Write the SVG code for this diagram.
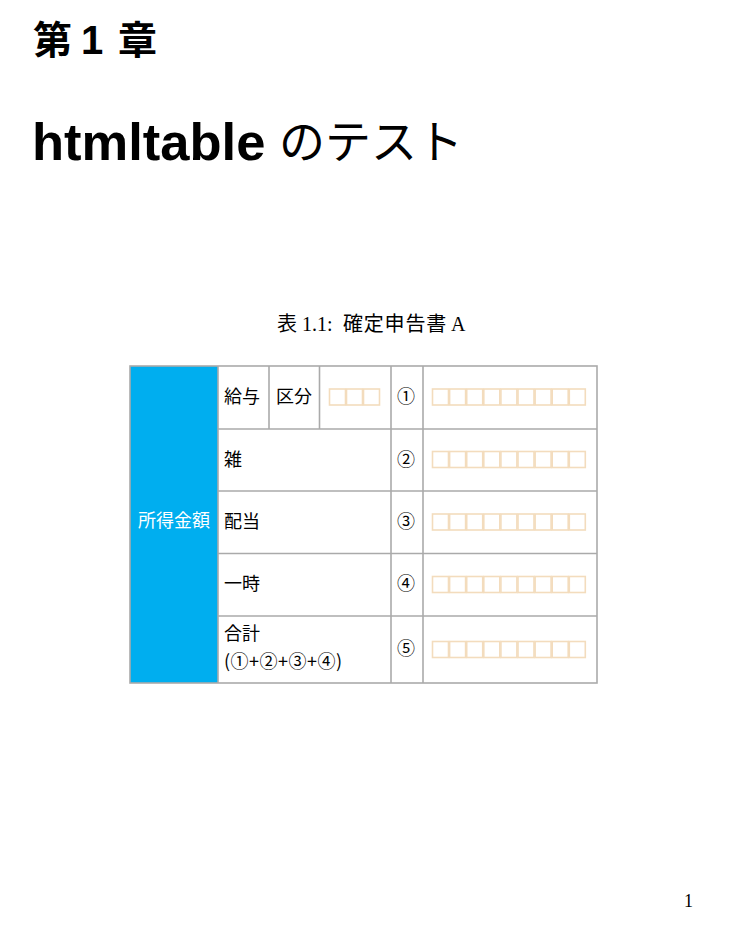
<svg xmlns="http://www.w3.org/2000/svg" width="733" height="927" viewBox="0 0 733 927">
<style>
.h{font-family:"Liberation Sans","Noto Sans CJK JP",sans-serif;font-weight:bold;fill:#000}
.hj{font-family:"Noto Sans CJK JP",sans-serif;font-weight:bold;fill:#000}
.cap{font-family:"Liberation Serif","Noto Sans CJK JP",serif;font-size:20px;fill:#000}
.capj{font-family:"Noto Sans CJK JP",serif;font-size:20px;fill:#000}
.t{font-family:"Noto Sans CJK JP",sans-serif;font-size:18px;fill:#000}
.w{font-family:"Noto Sans CJK JP",sans-serif;font-size:18px;fill:#fff}
.g{stroke:#aaaaaa;stroke-width:1.6;fill:none}
.b{fill:#fff;stroke:#f3dcbd;stroke-width:1.6}
</style>
<rect width="733" height="927" fill="#fff"/>
<g id="headings">
<text class="hj" x="33" y="54" font-size="39">第</text>
<text class="h" x="81" y="54" font-size="40">1</text>
<text class="hj" x="118" y="54" font-size="39">章</text>
<text class="h" x="32" y="159.5" font-size="52.5">htmltable</text>
<text x="279" y="158" font-size="46" style="font-family:'Noto Sans CJK JP',sans-serif;fill:#000">のテスト</text>
</g>
<g id="caption">
<text class="capj" x="277" y="331">表</text>
<text class="cap" x="302" y="331">1.1:</text>
<text class="capj" x="343" y="331" letter-spacing="0.8">確定申告書</text>
<text class="cap" x="451" y="331">A</text>
</g>
<g id="table">
<rect x="130" y="366" width="88" height="317" fill="#00aeef"/>
<text class="w" x="174" y="527" text-anchor="middle">所得金額</text>
<g id="row1">
<text class="t" x="224" y="403">給与</text>
<text class="t" x="276" y="403">区分</text>
<text class="t" x="406" y="403" text-anchor="middle">①</text>
</g>
<g id="row2">
<text class="t" x="224" y="465.5">雑</text>
<text class="t" x="406" y="465.5" text-anchor="middle">②</text>
</g>
<g id="row3">
<text class="t" x="224" y="528">配当</text>
<text class="t" x="406" y="528" text-anchor="middle">③</text>
</g>
<g id="row4">
<text class="t" x="224" y="590">一時</text>
<text class="t" x="406" y="590" text-anchor="middle">④</text>
</g>
<g id="row5">
<text class="t" x="224" y="640">合計</text>
<text class="t" x="224" y="668" letter-spacing="0.5">(①+②+③+④)</text>
<text class="t" x="406" y="655" text-anchor="middle">⑤</text>
</g>
<g id="boxes">
<g id="boxes-kubun">
<rect class="b" x="329.5" y="389" width="16" height="16"/>
<rect class="b" x="346.5" y="389" width="16" height="16"/>
<rect class="b" x="363.5" y="389" width="16" height="16"/>
</g>
<g id="boxes-r1">
<rect class="b" x="432.5" y="389" width="16" height="16"/><rect class="b" x="449.6" y="389" width="16" height="16"/><rect class="b" x="466.7" y="389" width="16" height="16"/><rect class="b" x="483.8" y="389" width="16" height="16"/><rect class="b" x="500.9" y="389" width="16" height="16"/><rect class="b" x="518" y="389" width="16" height="16"/><rect class="b" x="535.1" y="389" width="16" height="16"/><rect class="b" x="552.2" y="389" width="16" height="16"/><rect class="b" x="569.3" y="389" width="16" height="16"/>
</g>
<g id="boxes-r2">
<rect class="b" x="432.5" y="451.5" width="16" height="16"/><rect class="b" x="449.6" y="451.5" width="16" height="16"/><rect class="b" x="466.7" y="451.5" width="16" height="16"/><rect class="b" x="483.8" y="451.5" width="16" height="16"/><rect class="b" x="500.9" y="451.5" width="16" height="16"/><rect class="b" x="518" y="451.5" width="16" height="16"/><rect class="b" x="535.1" y="451.5" width="16" height="16"/><rect class="b" x="552.2" y="451.5" width="16" height="16"/><rect class="b" x="569.3" y="451.5" width="16" height="16"/>
</g>
<g id="boxes-r3">
<rect class="b" x="432.5" y="514" width="16" height="16"/><rect class="b" x="449.6" y="514" width="16" height="16"/><rect class="b" x="466.7" y="514" width="16" height="16"/><rect class="b" x="483.8" y="514" width="16" height="16"/><rect class="b" x="500.9" y="514" width="16" height="16"/><rect class="b" x="518" y="514" width="16" height="16"/><rect class="b" x="535.1" y="514" width="16" height="16"/><rect class="b" x="552.2" y="514" width="16" height="16"/><rect class="b" x="569.3" y="514" width="16" height="16"/>
</g>
<g id="boxes-r4">
<rect class="b" x="432.5" y="576.5" width="16" height="16"/><rect class="b" x="449.6" y="576.5" width="16" height="16"/><rect class="b" x="466.7" y="576.5" width="16" height="16"/><rect class="b" x="483.8" y="576.5" width="16" height="16"/><rect class="b" x="500.9" y="576.5" width="16" height="16"/><rect class="b" x="518" y="576.5" width="16" height="16"/><rect class="b" x="535.1" y="576.5" width="16" height="16"/><rect class="b" x="552.2" y="576.5" width="16" height="16"/><rect class="b" x="569.3" y="576.5" width="16" height="16"/>
</g>
<g id="boxes-r5">
<rect class="b" x="432.5" y="641.5" width="16" height="16"/><rect class="b" x="449.6" y="641.5" width="16" height="16"/><rect class="b" x="466.7" y="641.5" width="16" height="16"/><rect class="b" x="483.8" y="641.5" width="16" height="16"/><rect class="b" x="500.9" y="641.5" width="16" height="16"/><rect class="b" x="518" y="641.5" width="16" height="16"/><rect class="b" x="535.1" y="641.5" width="16" height="16"/><rect class="b" x="552.2" y="641.5" width="16" height="16"/><rect class="b" x="569.3" y="641.5" width="16" height="16"/>
</g>
</g>
<g id="grid">
<rect class="g" x="130" y="366" width="467" height="317"/>
<line class="g" x1="218" y1="366" x2="218" y2="683"/>
<line class="g" x1="269" y1="366" x2="269" y2="429"/>
<line class="g" x1="319.5" y1="366" x2="319.5" y2="429"/>
<line class="g" x1="391" y1="366" x2="391" y2="683"/>
<line class="g" x1="423" y1="366" x2="423" y2="683"/>
<line class="g" x1="218" y1="429" x2="597" y2="429"/>
<line class="g" x1="218" y1="491" x2="597" y2="491"/>
<line class="g" x1="218" y1="553.5" x2="597" y2="553.5"/>
<line class="g" x1="218" y1="616" x2="597" y2="616"/>
</g>
</g>
<g id="page-number">
<text class="cap" x="693" y="907" text-anchor="end" font-size="18" style="font-size:18px">1</text>
</g>
</svg>
